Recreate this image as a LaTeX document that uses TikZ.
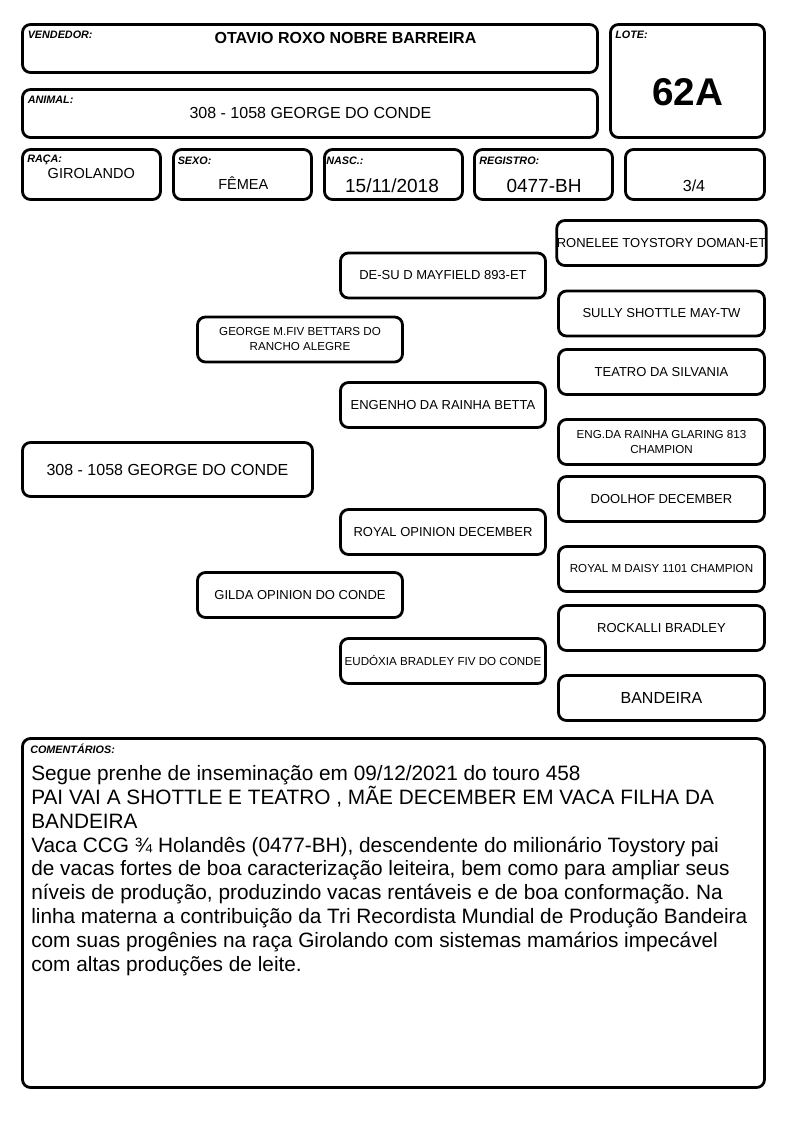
\documentclass[tikz,border=0pt]{standalone}
\usepackage{fontspec}
\setmainfont{Liberation Sans}
\frenchspacing
\begin{document}
\begin{tikzpicture}[x=0.75pt,y=-0.75pt,
  box/.style={draw, line width=2.1pt, rounded corners=6pt, inner sep=0pt, fill=white},
  lab/.style={anchor=base west, inner sep=0pt, font=\fontsize{8.1}{9}\selectfont\bfseries\itshape},
  val/.style={anchor=base, inner sep=0pt},
  ped/.style={box, minimum width=205*0.75pt, minimum height=45*0.75pt, align=center, font=\fontsize{9.75}{11.25}\selectfont},
  pedsm/.style={ped, font=\fontsize{8.7}{11.25}\selectfont},
  cline/.style={anchor=base west, inner sep=0pt, font=\fontsize{15.6}{18}\selectfont}
]
\useasboundingbox (0,0) rectangle (794,1123);
\fill[white] (0,0) rectangle (794,1123);

% header boxes
\node[box, minimum width=575*0.75pt, minimum height=48*0.75pt] (vend) at (310,48.5) {};
\node[box, minimum width=154*0.75pt, minimum height=113*0.75pt] (lote) at (687.5,81) {};
\node[box, minimum width=575*0.75pt, minimum height=48*0.75pt] (anim) at (310,113.5) {};
\node[box, minimum width=138*0.75pt, minimum height=50*0.75pt] (raca) at (91.5,174.5) {};
\node[box, minimum width=138*0.75pt, minimum height=50*0.75pt] (sexo) at (242.5,174.5) {};
\node[box, minimum width=138*0.75pt, minimum height=50*0.75pt] (nasc) at (393.5,174.5) {};
\node[box, minimum width=138*0.75pt, minimum height=50*0.75pt] (regi) at (543.5,174.5) {};
\node[box, minimum width=139*0.75pt, minimum height=50*0.75pt] (frac) at (695,174.5) {};

% header texts
\node[lab] (lvend) at (27.5,39) {VENDEDOR:};
\node[val, font=\fontsize{12}{14}\selectfont\bfseries] (tvend) at (345.5,43.3) {OTAVIO ROXO NOBRE BARREIRA};
\node[lab] (lanim) at (27.5,103.3) {ANIMAL:};
\node[val, font=\fontsize{12}{14}\selectfont] (tanim) at (310.5,119) {308 - 1058 GEORGE DO CONDE};
\node[lab] (llote) at (615,39) {LOTE:};
\node[val, font=\fontsize{29}{32}\selectfont\bfseries] (tlote) at (687.5,105.7) {62A};
\node[lab] (lraca) at (27,162.7) {RAÇA:};
\node[val, font=\fontsize{10.9}{13}\selectfont] (traca) at (91.3,178.3) {GIROLANDO};
\node[lab] (lsexo) at (177.5,165) {SEXO:};
\node[val, font=\fontsize{10.9}{13}\selectfont] (tsexo) at (243.3,190) {FÊMEA};
\node[lab] (lnasc) at (326,165) {NASC.:};
\node[val, font=\fontsize{14.25}{16}\selectfont] (tnasc) at (392,192.3) {15/11/2018};
\node[lab] (lregi) at (479,165) {REGISTRO:};
\node[val, font=\fontsize{14.25}{16}\selectfont] (tregi) at (544,192.7) {0477-BH};
\node[val, font=\fontsize{12}{14}\selectfont] (tfrac) at (694,191.7) {3/4};

% pedigree
\node[box, minimum width=290*0.75pt, minimum height=54*0.75pt, font=\fontsize{12}{14}\selectfont] (main) at (167.5,469.5) {308 - 1058 GEORGE DO CONDE};

\node[pedsm] (s) at (300,339.5) {GEORGE M.FIV BETTARS DO\\RANCHO ALEGRE};
\node[ped] (d) at (300,595) {GILDA OPINION DO CONDE};

\node[ped] (ss) at (443,275.5) {DE-SU D MAYFIELD 893-ET};
\node[ped] (sd) at (443,405) {ENGENHO DA RAINHA BETTA};
\node[ped] (ds) at (443,532) {ROYAL OPINION DECEMBER};
\node[pedsm] (dd) at (443,661) {EUDÓXIA BRADLEY FIV DO CONDE};

\node[ped, minimum width=206*0.75pt] (sss) at (661.5,243) {RONELEE TOYSTORY DOMAN-ET};
\node[ped, minimum width=206*0.75pt] (ssd) at (661.5,313.5) {SULLY SHOTTLE MAY-TW};
\node[ped, minimum width=206*0.75pt] (sds) at (661.5,372) {TEATRO DA SILVANIA};
\node[pedsm, minimum width=206*0.75pt] (sdd) at (661.5,442) {ENG.DA RAINHA GLARING 813\\CHAMPION};
\node[ped, minimum width=206*0.75pt] (dss) at (661.5,499) {DOOLHOF DECEMBER};
\node[pedsm, minimum width=206*0.75pt] (dsd) at (661.5,569) {ROYAL M DAISY 1101 CHAMPION};
\node[ped, minimum width=206*0.75pt] (dds) at (661.5,628) {ROCKALLI BRADLEY};
\node[ped, minimum width=206*0.75pt, font=\fontsize{12}{14}\selectfont] (ddd) at (661.5,698) {BANDEIRA};

% comments
\node[box, minimum width=742*0.75pt, minimum height=349*0.75pt] (coment) at (393.5,913) {};
\node[lab] (lcom) at (30,753.3) {COMENTÁRIOS:};
\node[cline] (c1) at (31,780.7) {Segue prenhe de inseminação em 09/12/2021 do touro 458};
\node[cline] (c2) at (31,804.5) {PAI VAI A SHOTTLE E TEATRO , MÃE DECEMBER EM VACA FILHA DA};
\node[cline] (c3) at (31,828.3) {BANDEIRA};
\node[cline] (c4) at (31,852.1) {Vaca CCG ¾ Holandês (0477-BH), descendente do milionário Toystory pai};
\node[cline] (c5) at (31,875.9) {de vacas fortes de boa caracterização leiteira, bem como para ampliar seus};
\node[cline] (c6) at (31,899.7) {níveis de produção, produzindo vacas rentáveis e de boa conformação. Na};
\node[cline] (c7) at (31,923.5) {linha materna a contribuição da Tri Recordista Mundial de Produção Bandeira};
\node[cline] (c8) at (31,947.3) {com suas progênies na raça Girolando com sistemas mamários impecável};
\node[cline] (c9) at (31,971.1) {com altas produções de leite.};
\end{tikzpicture}
\end{document}
